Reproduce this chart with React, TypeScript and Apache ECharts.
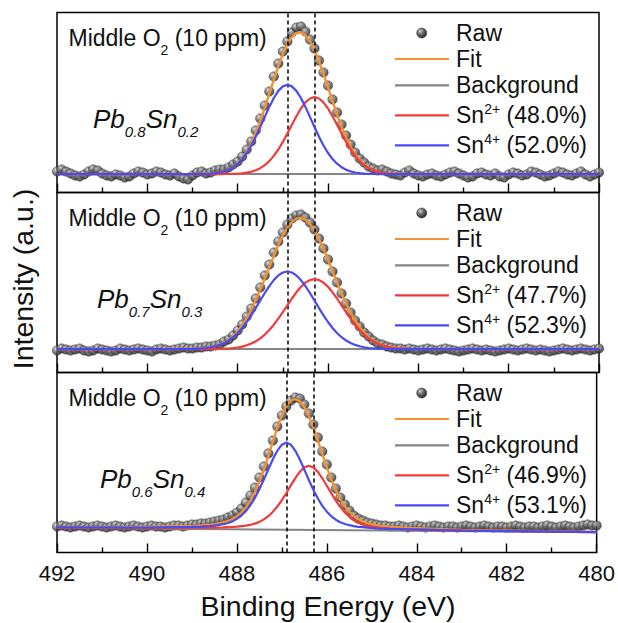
import React, { useEffect, useRef } from 'react';
import * as echarts from 'echarts';

// ---------- data ----------
const RAW_E = [
  492.0, 491.9, 491.8, 491.7, 491.6, 491.5, 491.4, 491.3, 491.2, 491.1,
  491.0, 490.9, 490.8, 490.7, 490.6, 490.5, 490.4, 490.3, 490.2, 490.1,
  490.0, 489.9, 489.8, 489.7, 489.6, 489.5, 489.4, 489.3, 489.2, 489.1,
  489.0, 488.9, 488.8, 488.7, 488.6, 488.5, 488.4, 488.3, 488.2, 488.1,
  488.0, 487.9, 487.8, 487.7, 487.6, 487.5, 487.4, 487.3, 487.2, 487.1,
  487.0, 486.9, 486.8, 486.7, 486.6, 486.5, 486.4, 486.3, 486.2, 486.1,
  486.0, 485.9, 485.8, 485.7, 485.6, 485.5, 485.4, 485.3, 485.2, 485.1,
  485.0, 484.9, 484.8, 484.7, 484.6, 484.5, 484.4, 484.3, 484.2, 484.1,
  484.0, 483.9, 483.8, 483.7, 483.6, 483.5, 483.4, 483.3, 483.2, 483.1,
  483.0, 482.9, 482.8, 482.7, 482.6, 482.5, 482.4, 482.3, 482.2, 482.1,
  482.0, 481.9, 481.8, 481.7, 481.6, 481.5, 481.4, 481.3, 481.2, 481.1,
  481.0, 480.9, 480.8, 480.7, 480.6, 480.5, 480.4, 480.3, 480.2, 480.1,
  480.0,
];

const TOP_RAW = [
  21, 23, 21, 19, 17, 16, 18, 21, 23, 22,
  19, 17, 16, 18, 17, 15, 16, 19, 21, 20,
  18, 19, 21, 20, 18, 17, 19, 16, 14, 13,
  17, 20, 21, 19, 20, 22, 23, 23, 25, 28,
  31, 36, 43, 51, 62, 74, 87, 101, 116, 129,
  141, 151, 160, 165, 166, 161, 153, 144, 132, 120,
  107, 93, 80, 68, 57, 48, 40, 34, 30, 26,
  24, 22, 23, 21, 19, 18, 17, 20, 22, 19,
  17, 16, 18, 19, 17, 16, 18, 20, 21, 19,
  17, 15, 16, 19, 20, 18, 17, 19, 16, 15,
  18, 20, 19, 17, 18, 21, 20, 18, 16, 17,
  19, 21, 20, 18, 17, 19, 21, 18, 16, 18,
  20,
];

const MID_RAW = [
  22, 24, 23, 22, 23, 24, 22, 21, 22, 24,
  23, 22, 21, 22, 24, 23, 22, 23, 24, 23,
  22, 21, 23, 24, 23, 22, 23, 24, 25, 24,
  24, 25, 25, 26, 26, 27, 28, 31, 33, 37,
  42, 48, 56, 64, 74, 85, 97, 108, 120, 131,
  140, 148, 154, 157, 158, 155, 150, 143, 134, 124,
  113, 101, 90, 79, 69, 60, 52, 46, 40, 36,
  32, 29, 28, 26, 25, 24, 24, 23, 24, 23,
  22, 23, 24, 23, 22, 23, 24, 23, 22, 21,
  22, 23, 24, 23, 22, 23, 22, 21, 22, 23,
  24, 23, 22, 23, 24, 23, 22, 23, 22, 21,
  22, 23, 24, 23, 22, 23, 24, 23, 22, 23,
  24,
];

const BOT_RAW = [
  26, 27, 26, 25, 26, 27, 26, 25, 26, 27,
  26, 25, 26, 27, 26, 25, 26, 27, 26, 25,
  26, 27, 26, 26, 25, 26, 27, 27, 26, 27,
  28, 28, 29, 29, 30, 31, 32, 33, 35, 37,
  40, 44, 50, 57, 65, 75, 86, 99, 112, 126,
  137, 146, 152, 155, 154, 148, 139, 128, 115, 101,
  88, 75, 64, 55, 48, 42, 37, 34, 32, 30,
  29, 28, 27, 27, 26, 26, 27, 26, 25, 26,
  27, 26, 25, 26, 27, 26, 25, 26, 26, 25,
  26, 27, 26, 25, 26, 27, 26, 25, 26, 26,
  25, 26, 27, 26, 25, 26, 26, 25, 26, 27,
  26, 25, 26, 27, 26, 25, 26, 27, 28, 27,
  27,
];

const CURVE_E = [
  492, 490,
  489.0, 488.9, 488.8, 488.7, 488.6, 488.5, 488.4, 488.3, 488.2, 488.1,
  488.0, 487.9, 487.8, 487.7, 487.6, 487.5, 487.4, 487.3, 487.2, 487.1,
  487.0, 486.9, 486.8, 486.7, 486.6, 486.5, 486.4, 486.3, 486.2, 486.1,
  486.0, 485.9, 485.8, 485.7, 485.6, 485.5, 485.4, 485.3, 485.2, 485.1,
  485.0, 484.9, 484.8, 484.7, 484.6, 484.5, 484.4, 484.3, 484.2,
  483, 480,
];

const TOP_FIT = [
  18.4, 18.4,
  18.4, 18.5, 18.5, 18.7, 18.9, 19.3, 20.0, 21.2, 22.9, 25.5,
  29.2, 34.3, 40.9, 49.3, 59.5, 71.4, 84.5, 98.6, 112.7, 126.2,
  138.3, 148.3, 155.4, 159.5, 160.1, 157.3, 151.2, 142.5, 131.3, 118.7,
  105.1, 91.4, 78.1, 65.9, 55.0, 45.7, 38.2, 32.3, 27.8, 24.6,
  22.3, 20.8, 19.8, 19.2, 18.8, 18.6, 18.5, 18.5, 18.4,
  18.4, 18.4,
];
const TOP_SN2 = [
  18.4, 18.4,
  18.4, 18.4, 18.4, 18.4, 18.4, 18.4, 18.4, 18.5, 18.5, 18.6,
  18.8, 19.2, 19.8, 20.7, 22.2, 24.3, 27.3, 31.4, 36.6, 43.0,
  50.6, 59.0, 67.7, 76.3, 84.0, 90.1, 94.0, 95.4, 94.0, 90.1,
  84.0, 76.3, 67.7, 59.0, 50.6, 43.0, 36.6, 31.4, 27.3, 24.3,
  22.2, 20.7, 19.8, 19.2, 18.8, 18.6, 18.5, 18.5, 18.4,
  18.4, 18.4,
];
const TOP_SN4 = [
  18.4, 18.4,
  18.4, 18.5, 18.5, 18.7, 18.9, 19.3, 20.0, 21.1, 22.8, 25.3,
  28.8, 33.5, 39.5, 47.0, 55.7, 65.5, 75.6, 85.6, 94.5, 101.6,
  106.1, 107.7, 106.1, 101.6, 94.5, 85.6, 75.6, 65.5, 55.7, 47.0,
  39.5, 33.5, 28.8, 25.3, 22.8, 21.1, 20.0, 19.3, 18.9, 18.7,
  18.5, 18.5, 18.4, 18.4, 18.4, 18.4, 18.4, 18.4, 18.4,
  18.4, 18.4,
];

const MID_FIT = [
  23.4, 23.4,
  23.7, 23.8, 24.1, 24.5, 25.3, 26.3, 27.8, 29.9, 32.6, 36.3,
  41.1, 47.0, 54.3, 62.7, 72.2, 82.8, 94.0, 105.5, 116.8, 127.6,
  137.0, 144.8, 150.6, 153.9, 154.7, 152.9, 148.6, 142.0, 133.5, 123.7,
  112.8, 101.3, 90.1, 79.1, 69.0, 60.0, 52.0, 45.3, 39.7, 35.3,
  31.9, 29.3, 27.5, 26.0, 25.1, 24.4, 24.0, 23.8, 23.6,
  23.4, 23.4,
];
const MID_SN2 = [
  23.4, 23.4,
  23.4, 23.4, 23.4, 23.4, 23.5, 23.5, 23.6, 23.8, 24.0, 24.4,
  25.0, 25.9, 27.2, 28.9, 31.2, 34.2, 37.9, 42.5, 47.8, 53.9,
  60.4, 67.2, 74.0, 80.2, 85.7, 89.9, 92.5, 93.4, 92.5, 89.9,
  85.7, 80.2, 74.0, 67.2, 60.4, 53.9, 47.8, 42.5, 37.9, 34.2,
  31.2, 28.9, 27.2, 25.9, 25.0, 24.4, 24.0, 23.8, 23.6,
  23.4, 23.4,
];
const MID_SN4 = [
  23.4, 23.4,
  23.7, 23.8, 24.1, 24.5, 25.2, 26.2, 27.6, 29.5, 32.0, 35.3,
  39.5, 44.5, 50.5, 57.2, 64.4, 72.0, 79.5, 86.4, 92.4, 97.1,
  100.0, 101.0, 100.0, 97.1, 92.4, 86.4, 79.5, 72.0, 64.4, 57.2,
  50.5, 44.5, 39.5, 35.3, 32.0, 29.5, 27.6, 26.2, 25.2, 24.5,
  24.1, 23.8, 23.7, 23.5, 23.5, 23.4, 23.4, 23.4, 23.4,
  23.4, 23.4,
];

const BOT_FIT = [
  25.3, 25.5,
  26.6, 26.8, 27.1, 27.5, 27.9, 28.4, 29.2, 30.1, 31.5, 33.4,
  36.2, 40.1, 45.1, 51.9, 60.4, 70.8, 83.0, 96.6, 111.0, 125.0,
  137.3, 146.7, 152.1, 153.4, 151.1, 145.4, 136.6, 125.3, 112.1, 98.4,
  85.1, 72.9, 62.3, 53.3, 46.3, 40.7, 36.5, 33.3, 31.1, 29.4,
  28.2, 27.3, 26.6, 26.2, 25.6, 25.3, 25.0, 24.7, 24.5,
  22.5, 20.6,
];
const BOT_SN2 = [
  24.9, 24.5,
  24.6, 24.6, 24.7, 24.8, 24.8, 24.9, 25.0, 25.1, 25.3, 25.5,
  25.8, 26.3, 26.8, 27.7, 28.9, 30.6, 33.1, 36.3, 40.7, 46.0,
  52.3, 59.5, 67.1, 74.4, 80.8, 85.1, 86.7, 85.1, 80.6, 74.2,
  66.8, 59.1, 51.9, 45.4, 40.1, 35.7, 32.3, 29.8, 28.0, 26.7,
  25.8, 25.1, 24.6, 24.3, 23.9, 23.7, 23.5, 23.3, 23.2,
  21.9, 20.4,
];
const BOT_SN4 = [
  25.1, 25.0,
  25.6, 25.7, 25.9, 26.2, 26.5, 26.9, 27.6, 28.3, 29.5, 31.1,
  33.6, 37.0, 41.4, 47.3, 54.6, 63.2, 72.9, 83.2, 93.2, 101.9,
  107.8, 110.0, 107.8, 101.7, 93.0, 82.9, 72.5, 62.8, 54.0, 46.7,
  40.8, 36.2, 32.8, 30.2, 28.5, 27.3, 26.4, 25.7, 25.3, 24.8,
  24.5, 24.2, 24.0, 23.9, 23.6, 23.5, 23.4, 23.2, 23.1,
  21.9, 20.4,
];

const BG_E = [492, 480];
const TOP_BG = [18.4, 18.4];
const MID_BG = [23.4, 23.4];
const BOT_BG = [24.7, 20.2];

const PEAK_LINES = [486.9, 486.3];

const SAMPLE_MAIN = [['Pb', 'Sn'], ['Pb', 'Sn'], ['Pb', 'Sn']];
const SAMPLE_SUB = [['0.8', '0.2'], ['0.7', '0.3'], ['0.6', '0.4']];
const SN2_PCT = ['48.0%', '47.7%', '46.9%'];
const SN4_PCT = ['52.0%', '52.3%', '53.1%'];
const CONDITION = ['Middle O', '2', '(10 ppm)'];

// ---------- style ----------
const FONT = '"Liberation Sans", Arial, Helvetica, sans-serif';
const TXT = '#111111';
const ORANGE = '#F5922F';
const RED = '#F23A3A';
const BLUE = '#4A4AF2';
const GRAY = '#858585';

const PANEL_TOP = [12.5, 192.5, 372.5];
const PANEL_H = 180;
const LEFT = 57;
const WIDTH = 542;

const ballFill = () =>
  new echarts.graphic.RadialGradient(0.36, 0.32, 0.72, [
    { offset: 0, color: '#d4d4d4' },
    { offset: 0.35, color: '#7a7a7a' },
    { offset: 1, color: '#1f1f1f' },
  ]);

function buildOption() {
  const panels = [
    { raw: TOP_RAW, fit: TOP_FIT, bg: TOP_BG, sn2: TOP_SN2, sn4: TOP_SN4 },
    { raw: MID_RAW, fit: MID_FIT, bg: MID_BG, sn2: MID_SN2, sn4: MID_SN4 },
    { raw: BOT_RAW, fit: BOT_FIT, bg: BOT_BG, sn2: BOT_SN2, sn4: BOT_SN4 },
  ];

  const grid = PANEL_TOP.map((t) => ({
    left: LEFT,
    width: WIDTH,
    top: t,
    height: PANEL_H,
    show: true,
    borderColor: '#000',
    borderWidth: 1.5,
    backgroundColor: 'transparent',
  }));

  const xAxis = PANEL_TOP.map((_, i) => ({
    type: 'value',
    gridIndex: i,
    min: 480,
    max: 492,
    interval: 2,
    inverse: true,
    axisLine: { show: false },
    axisTick: { show: true, inside: true, length: 9, lineStyle: { color: '#000', width: 1.4 } },
    minorTick: { show: true, splitNumber: 2, length: 5, lineStyle: { color: '#000', width: 1.4 } },
    splitLine: { show: false },
    minorSplitLine: { show: false },
    axisLabel: {
      show: i === 2,
      fontSize: 22,
      fontFamily: FONT,
      color: TXT,
      margin: 10,
    },
  }));

  const yAxis = PANEL_TOP.map((_, i) => ({
    type: 'value',
    gridIndex: i,
    min: 0,
    max: 180,
    show: false,
  }));

  const series: any[] = [];
  panels.forEach((p, i) => {
    series.push({
      type: 'scatter',
      name: 'Raw',
      xAxisIndex: i,
      yAxisIndex: i,
      symbol: 'circle',
      symbolSize: 9.5,
      itemStyle: { color: ballFill(), borderColor: '#2a2a2a', borderWidth: 0.5 },
      data: RAW_E.map((e, j) => [e, p.raw[j]]),
      z: 2,
      silent: true,
    });
    series.push({
      type: 'line',
      name: 'Background',
      xAxisIndex: i,
      yAxisIndex: i,
      symbol: 'none',
      lineStyle: { color: GRAY, width: 2 },
      data: BG_E.map((e, j) => [e, p.bg[j]]),
      z: 3,
      silent: true,
    });
    series.push({
      type: 'line',
      name: 'Fit',
      xAxisIndex: i,
      yAxisIndex: i,
      symbol: 'none',
      lineStyle: { color: ORANGE, width: 2.4 },
      data: CURVE_E.map((e, j) => [e, p.fit[j]]),
      z: 4,
      silent: true,
    });
    series.push({
      type: 'line',
      name: 'Sn2+',
      xAxisIndex: i,
      yAxisIndex: i,
      symbol: 'none',
      lineStyle: { color: RED, width: 2.2 },
      data: CURVE_E.map((e, j) => [e, p.sn2[j]]),
      z: 5,
      silent: true,
    });
    series.push({
      type: 'line',
      name: 'Sn4+',
      xAxisIndex: i,
      yAxisIndex: i,
      symbol: 'none',
      lineStyle: { color: BLUE, width: 2.2 },
      data: CURVE_E.map((e, j) => [e, p.sn4[j]]),
      z: 6,
      silent: true,
      markLine: {
        silent: true,
        symbol: ['none', 'none'],
        label: { show: false },
        lineStyle: { color: '#000', type: [4, 3], width: 1.5 },
        data: PEAK_LINES.map((v) => ({ xAxis: v })),
      },
    });
  });

  const graphic: any[] = [];
  const rowY = [33, 59, 85.3, 115.3, 145.3];
  const lineX1 = 395;
  const lineX2 = 449;
  const textX = 456;
  const sampleX = [93, 97, 100];

  PANEL_TOP.forEach((t, i) => {
    const off = t - PANEL_TOP[0];
    graphic.push({
      type: 'circle',
      shape: { cx: 421.7, cy: rowY[0] + off, r: 5 },
      style: { fill: ballFill(), stroke: '#2a2a2a', lineWidth: 0.5 },
      z: 100,
    });
    [
      [ORANGE, rowY[1]],
      [GRAY, rowY[2]],
      [RED, rowY[3]],
      [BLUE, rowY[4]],
    ].forEach(([c, y]) => {
      graphic.push({
        type: 'line',
        shape: { x1: lineX1, y1: (y as number) + off, x2: lineX2, y2: (y as number) + off },
        style: { stroke: c as string, lineWidth: 2.2 },
        z: 100,
      });
    });
    const legendTexts = [
      '{m|Raw}',
      '{m|Fit}',
      '{m|Background}',
      `{m|Sn}{p|2+}{m|\u00a0(${SN2_PCT[i]})}`,
      `{m|Sn}{p|4+}{m|\u00a0(${SN4_PCT[i]})}`,
    ];
    legendTexts.forEach((txt, k) => {
      graphic.push({
        type: 'text',
        x: textX,
        y: rowY[k] + off,
        z: 100,
        style: {
          text: txt,
          fill: TXT,
          fontSize: 23,
          fontFamily: FONT,
          align: 'left',
          verticalAlign: 'middle',
          rich: {
            m: { fontSize: 23, fontFamily: FONT, fill: TXT },
            p: { fontSize: 14, fontFamily: FONT, fill: TXT, padding: [0, 0, 12, 0] },
          },
        },
      });
    });
    graphic.push({
      type: 'text',
      x: 68.5,
      y: 38 + off,
      z: 100,
      style: {
        text: `{m|${CONDITION[0]}}{s|${CONDITION[1]}}{m|\u00a0${CONDITION[2]}}`,
        fill: TXT,
        fontSize: 23,
        fontFamily: FONT,
        align: 'left',
        verticalAlign: 'middle',
        rich: {
          m: { fontSize: 23, fontFamily: FONT, fill: TXT },
          s: { fontSize: 14, fontFamily: FONT, fill: TXT, padding: [24, 0, 0, 0] },
        },
      },
    });
    const [a, b] = SAMPLE_MAIN[i];
    const [sa, sb] = SAMPLE_SUB[i];
    graphic.push({
      type: 'text',
      x: sampleX[i],
      y: 119 + off,
      z: 100,
      style: {
        text: `{a|${a}}{b|${sa}}{a|${b}}{b|${sb}}`,
        fill: TXT,
        fontSize: 26,
        fontFamily: FONT,
        fontStyle: 'italic',
        align: 'left',
        verticalAlign: 'middle',
        rich: {
          a: { fontSize: 26, fontFamily: FONT, fontStyle: 'italic', fill: TXT },
          b: { fontSize: 15, fontFamily: FONT, fontStyle: 'italic', fill: TXT, padding: [24, 0, 0, 0] },
        },
      },
    });
  });

  graphic.push({
    type: 'text',
    x: 23,
    y: 279,
    rotation: Math.PI / 2,
    z: 100,
    style: {
      text: 'Intensity (a.u.)',
      fill: TXT,
      fontSize: 28.5,
      fontFamily: FONT,
      align: 'center',
      verticalAlign: 'middle',
    },
  });
  graphic.push({
    type: 'text',
    x: 328,
    y: 606,
    z: 100,
    style: {
      text: 'Binding Energy (eV)',
      fill: TXT,
      fontSize: 28.5,
      fontFamily: FONT,
      align: 'center',
      verticalAlign: 'middle',
    },
  });

  return {
    animation: false,
    backgroundColor: '#ffffff',
    grid,
    xAxis,
    yAxis,
    series,
    graphic,
  };
}

export default function App() {
  const ref = useRef<HTMLDivElement>(null);
  useEffect(() => {
    document.body.style.margin = '0';
    const chart = echarts.init(ref.current as HTMLDivElement, null, { renderer: 'svg' });
    chart.setOption(buildOption() as any);
    return () => chart.dispose();
  }, []);
  return (
    <div
      ref={ref}
      style={{ position: 'fixed', left: 0, top: 0, width: 618, height: 623, background: '#fff' }}
    />
  );
}
